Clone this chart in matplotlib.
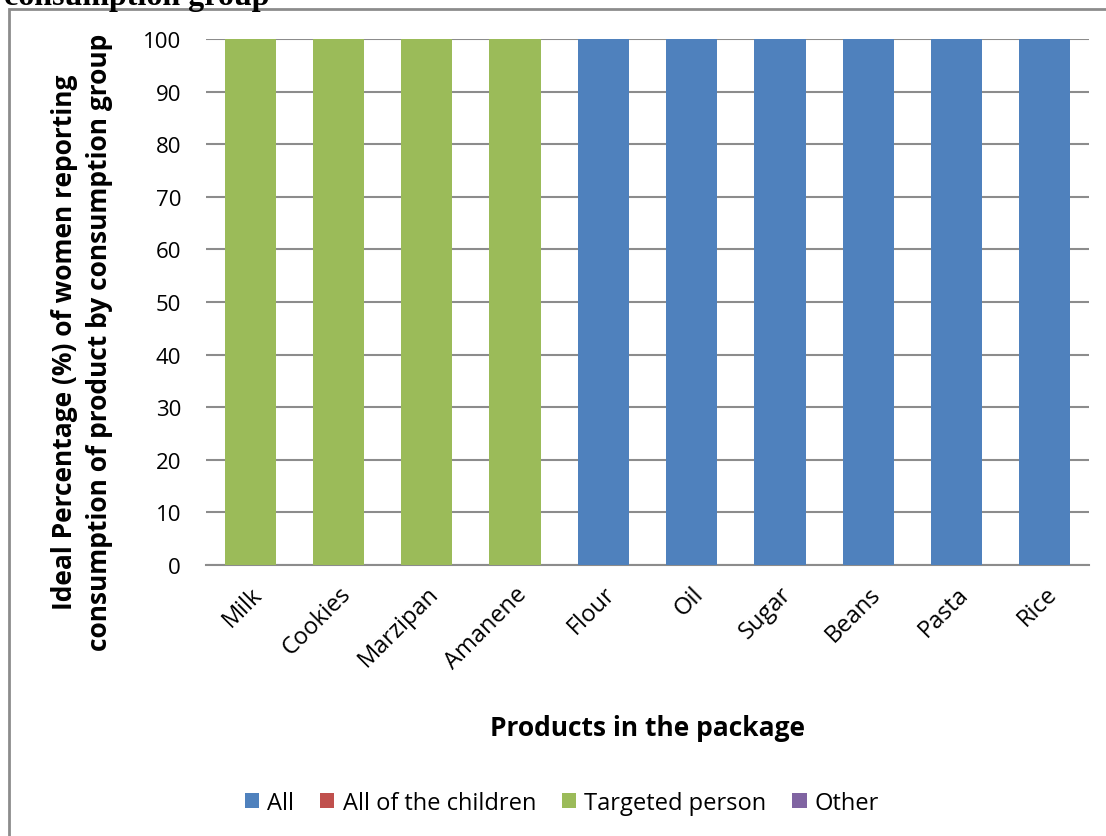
import numpy as np
import matplotlib.pyplot as plt
from matplotlib.patches import Rectangle

products = ["Milk", "Cookies", "Marzipan", "Amanene", "Flour",
            "Oil", "Sugar", "Beans", "Pasta", "Rice"]

# Percentage of women per consumption group (stacked)
all_members = [0, 0, 0, 0, 100, 100, 100, 100, 100, 100]
all_children = [0, 0, 0, 0, 0, 0, 0, 0, 0, 0]
targeted_person = [100, 100, 100, 100, 0, 0, 0, 0, 0, 0]
other = [0, 0, 0, 0, 0, 0, 0, 0, 0, 0]

series = [
    ("All", all_members, "#4F81BD"),
    ("All of the children", all_children, "#C0504D"),
    ("Targeted person", targeted_person, "#9BBB59"),
    ("Other", other, "#8064A2"),
]

W, H = 1106, 837
fig = plt.figure(figsize=(W / 100, H / 100), dpi=100)
plt.rcParams["font.family"] = ["Open Sans", "DejaVu Sans"]

# Outer chart frame
fig.patches.append(Rectangle((9 / W, -0.1), 1.2, (H - 10) / H + 0.1,
                             transform=fig.transFigure, fill=False,
                             edgecolor="#8c8c8c", linewidth=2.0))

# Heading line running off the top of the page
fig.text(4 / W, 1 - 5 / H, "consumption group", family="Liberation Serif",
         fontweight="bold", fontsize=23, va="baseline", ha="left")

ax = fig.add_axes([206 / W, 1 - 566 / H, (1089 - 206) / W, (566 - 40) / H])

x = np.arange(len(products))
bottom = np.zeros(len(products))
handles = []
for label, vals, color in series:
    vals = np.array(vals, dtype=float)
    b = ax.bar(x, vals, width=0.58, bottom=bottom, color=color, label=label,
               zorder=3)
    handles.append(b)
    bottom += vals

ax.set_xlim(-0.5, len(products) - 0.5)
ax.set_ylim(0, 100)
ax.set_yticks(np.arange(0, 101, 10))
ax.yaxis.grid(True, color="#8c8c8c", linewidth=1.5, zorder=0)
ax.set_axisbelow(True)
for side in ["top", "right", "left"]:
    ax.spines[side].set_visible(False)
ax.spines["bottom"].set_color("#8c8c8c")
ax.spines["bottom"].set_linewidth(1.5)
ax.tick_params(axis="both", length=0, labelsize=16)
ax.tick_params(axis="y", pad=18)

ax.set_xticks(x)
ax.set_xticklabels(products, rotation=45, ha="right", rotation_mode="anchor",
                   fontsize=17)
ax.tick_params(axis="x", pad=12)

ax.set_ylabel("Ideal Percentage (%) of women reporting\n"
              "consumption of product by consumption group",
              fontsize=19, fontweight="bold", linespacing=1.35)
ax.yaxis.set_label_coords((82 - 206) / 883, (566 - 342) / 526)
ax.yaxis.label.set_va("center")

ax.set_xlabel("Products in the package", fontsize=19, fontweight="bold")
ax.xaxis.set_label_coords(0.5, (566 - 728) / 526)
ax.xaxis.label.set_va("center")

fig.legend(handles=handles, loc="center", bbox_to_anchor=(562 / W, 1 - 804 / H),
           ncol=4, frameon=False, fontsize=17, handlelength=0.6,
           handleheight=0.6, handletextpad=0.35, columnspacing=1.1)

fig.savefig("out.png", dpi=100)
